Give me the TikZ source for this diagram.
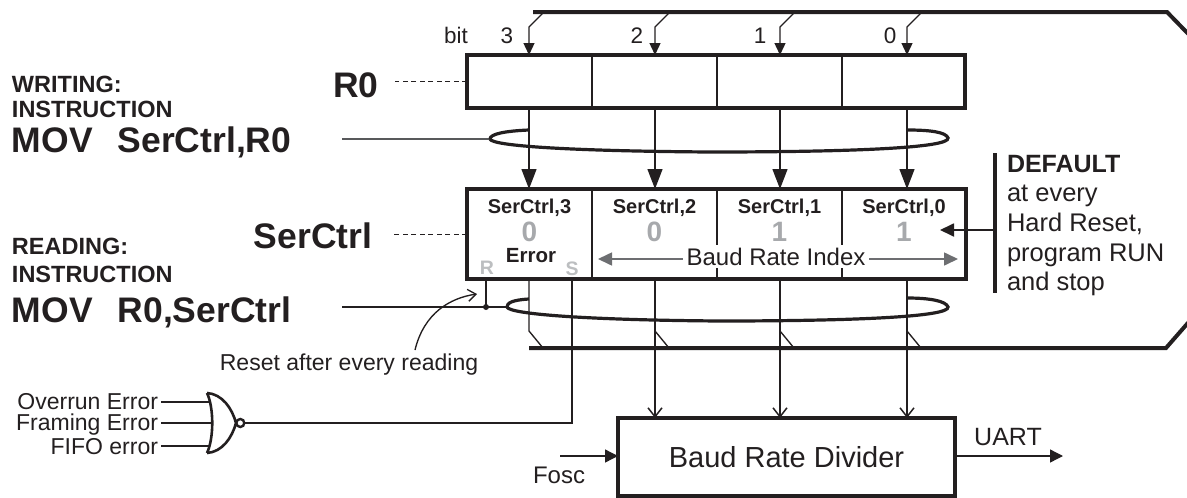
\documentclass[tikz,border=0pt]{standalone}
\usepackage{fontspec}
\setmainfont{Liberation Sans}
\usetikzlibrary{arrows.meta}
\definecolor{ink}{HTML}{231F20}
\definecolor{digitgray}{HTML}{A7A9AC}
\definecolor{rsgray}{HTML}{BCBEC0}
\definecolor{arrgray}{HTML}{6D6E71}
\definecolor{feedgray}{HTML}{58595B}
\newcommand{\fsz}[1]{\fontsize{#1}{#1}\selectfont}
\begin{document}
\begin{tikzpicture}[x=1pt,y=-1pt,line join=miter,
  every node/.style={inner sep=0pt,outer sep=0pt,text=ink},
  lbl/.style={font=\fsz{23.5}\bfseries,anchor=base west},
  big/.style={font=\fsz{35.5}\bfseries,anchor=base west},
  regbox/.style={draw=ink,line width=3.5pt},
  thinln/.style={draw=ink,line width=1.35pt},
  bus/.style={draw=ink,line width=4pt},
  loopln/.style={draw=ink,line width=3.2pt},
  dashln/.style={draw=ink,line width=1pt,dash pattern=on 5pt off 3.5pt},
  bigarr/.style={thinln,-{Triangle[length=20pt,width=15pt]}},
  bitarr/.style={thinln,-{Triangle[length=12pt,width=11pt]}},
  smallarr/.style={thinln,-{Triangle[length=13pt,width=13pt]}},
  openarr/.style={thinln,-{Straight Barb[length=9pt,width=14pt,line width=1.5pt]}},
  grayarr/.style={draw=arrgray,line width=1.6pt,-{Triangle[length=14pt,width=13pt]}},
  bitlbl/.style={font=\fsz{22.5},anchor=base},
  cellhd/.style={font=\fsz{20}\bfseries,anchor=base},
  cellval/.style={font=\fsz{28}\bfseries,anchor=base,text=digitgray},
  rslbl/.style={font=\fsz{19.5}\bfseries,anchor=base,text=rsgray},
  txt/.style={font=\fsz{24},anchor=base},
  deftxt/.style={font=\fsz{25.5},anchor=base west},
  inlbl/.style={font=\fsz{23},anchor=base east}
]
\useasboundingbox (0,0) rectangle (1187,498);

% column coordinates
\coordinate (col3) at (529,0);
\coordinate (col2) at (655,0);
\coordinate (col1) at (780,0);
\coordinate (col0) at (907,0);
\coordinate (dv1) at (592,0);
\coordinate (dv2) at (717,0);
\coordinate (dv3) at (842,0);
\coordinate (topbus) at (0,12);
\coordinate (gapT) at (0,245);
\coordinate (gapB) at (0,268);

% left labels
\node[lbl] (wr1) at (12,92) {WRITING:};
\node[lbl] (wr2) at (12,117) {INSTRUCTION};
\node[big] (wr3) at (12,152) {MOV\hspace{0.7em}SerCtrl,R0};
\node[lbl] (rd1) at (12,254) {READING:};
\node[lbl] (rd2) at (12,282) {INSTRUCTION};
\node[big] (rd3) at (12,322) {MOV\hspace{0.7em}R0,SerCtrl};
\node[font=\fsz{35.5}\bfseries,anchor=base] (r0lab) at (356,97) {R0};
\node[font=\fsz{35.5}\bfseries,anchor=base] (sclab) at (313,248) {SerCtrl};

% registers
\node[regbox,minimum width=498pt,minimum height=53pt] (r0) at (716,81.5) {};
\node[regbox,minimum width=499pt,minimum height=90pt] (sc) at (716.5,234) {};
\node[regbox,minimum width=337pt,minimum height=78pt,font=\fsz{29}] (div) at (786.5,457) {Baud Rate Divider};

\foreach \d in {dv1,dv2,dv3} {
  \draw[thinln] (r0.north -| \d) -- (r0.south -| \d);
}
\draw[thinln] (sc.north -| dv1) -- (sc.south -| dv1);
\foreach \d in {dv2,dv3} {
  \draw[thinln] (sc.north -| \d) -- (gapT -| \d);
  \draw[thinln] (gapB -| \d) -- (sc.south -| \d);
}

% dashed leaders
\draw[dashln] (r0.west) -- ++(-72,0);
\draw[dashln] (sc.west) -- ++(-74,0);

% top bus
\draw[bus] (533,12) -- (1167,12) -- (1201,47);
% bottom bus
\draw[bus] (529,348) -- (1166,348) -- (1201,308);

% bit labels
\node[bitlbl] (bitw) at (456,43) {bit};
\node[bitlbl] (b3) at (507,43) {3};
\node[bitlbl] (b2) at (637,43) {2};
\node[bitlbl] (b1) at (760,43) {1};
\node[bitlbl] (b0) at (890,43) {0};

% taps from top bus into R0 and arrows R0 -> SerCtrl
\foreach \c in {col3,col2,col1,col0} {
  \draw[bitarr] (\c |- topbus) ++(15,0) -- ++(-15,15) -- (\c |- r0.north);
  \draw[bigarr] (\c |- r0.south) -- (\c |- sc.north);
  \draw[thinln] (\c |- sc.south) -- ++(0,52) -- ++(14,17);
}
\foreach \c in {col2,col1,col0} {
  \draw[openarr] (\c |- sc.south) -- (\c |- div.north);
}

% writing loop
\coordinate (wL) at (490,139);
\draw[draw=feedgray,line width=1.5pt] (wL) -- ++(-148,0);
\draw[loopln] (529,130) .. controls (505,131) and (490,134) .. (wL);
\draw[loopln] (wL) .. controls (492,146) and (570,151) .. (710,152)
  .. controls (850,152) and (950,148) .. (948,138)
  .. controls (946,132) and (930,130) .. (907,130);

% reading loop
\coordinate (rL) at (507,307);
\coordinate (rdot) at (486,307);
\draw[thinln] (rL) -- ++(-165,0);
\draw[thinln] (rdot |- sc.south) -- (rdot);
\fill[ink] (rdot) circle (3pt);
\draw[loopln] (529,299) .. controls (512,300) and (507,303) .. (rL);
\draw[loopln] (rL) .. controls (509,314) and (585,320) .. (720,321)
  .. controls (850,321) and (950,317) .. (948,307)
  .. controls (946,301) and (930,298) .. (907,298);

% cell texts
\node[cellhd] (h3) at (529.5,213) {SerCtrl,3};
\node[cellhd] (h2) at (654.5,213) {SerCtrl,2};
\node[cellhd] (h1) at (779.5,213) {SerCtrl,1};
\node[cellhd] (h0) at (904,213) {SerCtrl,0};
\node[cellval] (v3) at (529.5,241) {0};
\node[cellval] (v2) at (654.5,241) {0};
\node[cellval] (v1) at (779.5,241) {1};
\node[cellval] (v0) at (904,241) {1};
\node[font=\fsz{20.5}\bfseries,anchor=base] (err) at (531,262) {Error};
\node[rslbl] (rlab) at (487,274) {R};
\node[rslbl] (slab) at (572,275) {S};
\node[txt,inner xsep=4pt] (bri) at (776,265) {Baud Rate Index};
\coordinate (briL) at (598,259);
\coordinate (briR) at (958,259);
\draw[grayarr] (bri.west |- briL) -- (briL);
\draw[grayarr] (bri.east |- briR) -- (briR);

% DEFAULT block
\coordinate (dbT) at (995,153);
\coordinate (dbB) at (995,293);
\coordinate (dbA) at (995,230);
\coordinate (dbTip) at (940,230);
\draw[draw=ink,line width=3.5pt] (dbT) -- (dbB);
\draw[draw=ink,line width=1.8pt,-{Triangle[length=14pt,width=13pt]}] (dbA) -- (dbTip);
\node[deftxt,font=\fsz{25}\bfseries] (def1) at (1007,172) {DEFAULT};
\node[deftxt] (def2) at (1007,201) {at every};
\node[deftxt] (def3) at (1007,231) {Hard Reset,};
\node[deftxt] (def4) at (1007,261) {program RUN};
\node[deftxt] (def5) at (1007,290) {and stop};

% reset note
\node[font=\fsz{23},anchor=base] (rst) at (349,370) {Reset after every reading};
\coordinate (rstS) at (415,350);
\coordinate (rstT) at (477,294);
\draw[thinln,-{Straight Barb[length=8pt,width=12pt,line width=1.3pt]}] (rstS) .. controls (424,313) and (450,298) .. (rstT);

% NOR gate
\coordinate (gTop) at (207,393);
\coordinate (gBot) at (207,453);
\coordinate (gTip) at (236,423);
\coordinate (gOut) at (244.5,423);
\coordinate (sLine) at (572,423);
\draw[draw=ink,line width=2.6pt] (gTop) .. controls (214,408) and (214,438) .. (gBot);
\draw[draw=ink,line width=2.6pt] (gTop) .. controls (222,394) and (232,408) .. (gTip)
  .. controls (232,438) and (222,452) .. (gBot);
\draw[draw=ink,line width=2.4pt] (240.3,423) circle (4pt);
\node[inlbl] (in1) at (158,409) {Overrun Error};
\node[inlbl] (in2) at (158,430) {Framing Error};
\node[inlbl] (in3) at (158,454) {FIFO error};
\draw[thinln] (in1.east |- 0,402) ++(3,0) -- (208.5,402);
\draw[thinln] (in2.east |- 0,423) ++(3,0) -- (212.5,423);
\draw[thinln] (in3.east |- 0,446) ++(3,0) -- (208.5,446);
\draw[thinln] (gOut) -- (sLine) -- (sLine |- sc.south);

% Fosc / UART
\coordinate (foscS) at (560,456);
\coordinate (uartE) at (1063,456);
\draw[smallarr] (foscS) -- (div.west |- foscS);
\draw[smallarr] (div.east |- uartE) -- (uartE);
\node[txt] (fosc) at (559,483) {Fosc};
\node[txt,font=\fsz{25}] (uart) at (1008,445) {UART};

\end{tikzpicture}
\end{document}
